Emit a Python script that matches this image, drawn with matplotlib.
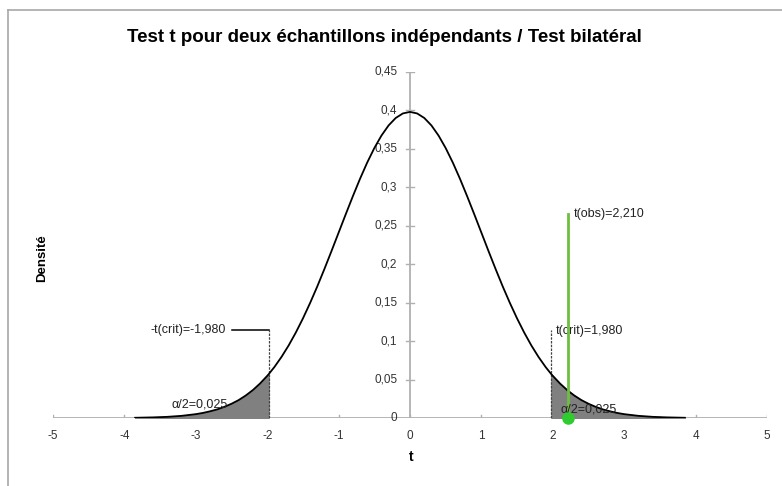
import matplotlib.pyplot as plt
from matplotlib.lines import Line2D

# density of the t distribution (right half, mirrored)
t_half = [0.0, 0.1, 0.2, 0.3, 0.4, 0.5, 0.6, 0.7, 0.8, 0.9, 1.0, 1.1, 1.2, 1.3, 1.4,
          1.5, 1.6, 1.7, 1.8, 1.9, 1.98, 2.0, 2.1, 2.2, 2.3, 2.4, 2.5, 2.6, 2.7, 2.8,
          2.9, 3.0, 3.2, 3.4, 3.6, 3.85]
d_half = [0.3981, 0.3961, 0.3902, 0.3805, 0.3673, 0.3510, 0.3321, 0.3111, 0.2885, 0.2650,
          0.2410, 0.2170, 0.1935, 0.1708, 0.1494, 0.1294, 0.1110, 0.0943, 0.0794, 0.0662,
          0.0569, 0.0548, 0.0449, 0.0364, 0.0293, 0.0233, 0.0185, 0.0145, 0.0112, 0.0087,
          0.0066, 0.0050, 0.0028, 0.0015, 0.0008, 0.0003]
t_vals = [-t for t in t_half[:0:-1]] + t_half
dens = d_half[:0:-1] + d_half

t_crit = 1.980
t_obs = 2.210
crit_line_top = 0.115
obs_line_top = 0.265

x_ticks = [-5, -4, -3, -2, -1, 0, 1, 2, 3, 4, 5]
y_ticks = [0, 0.05, 0.1, 0.15, 0.2, 0.25, 0.3, 0.35, 0.4, 0.45]
y_labels = ['0', '0,05', '0,1', '0,15', '0,2', '0,25', '0,3', '0,35', '0,4', '0,45']

plt.rcParams['font.family'] = ['Liberation Sans', 'DejaVu Sans']

fig = plt.figure(figsize=(7.82, 4.86), dpi=100)
ax = fig.add_axes([53 / 782, 68 / 486, 714 / 782, 346 / 486])
ax.set_xlim(-5, 5)
ax.set_ylim(0, 0.45)
ax.axis('off')

grey = '#b0b0b0'
lab_col = '#333333'
# axes crossing at the origin
ax.plot([-5, 5], [0, 0], color=grey, lw=1.3, zorder=1)
ax.plot([0, 0], [0, 0.45], color=grey, lw=1.3, zorder=1)
for xt in x_ticks:
    ax.plot([xt, xt], [-0.004, 0.004], color=grey, lw=1, zorder=1)
    ax.text(xt, -0.016, str(xt), ha='center', va='top', fontsize=8.5, color=lab_col)
for yt, lab in zip(y_ticks, y_labels):
    ax.plot([-0.06, 0.06], [yt, yt], color=grey, lw=1, zorder=1)
    ax.text(-0.18, yt, lab, ha='right', va='center', fontsize=8.5, color=lab_col)

# shaded tails
left_t = [t for t in t_vals if t <= -t_crit]
left_d = [d for t, d in zip(t_vals, dens) if t <= -t_crit]
right_t = [t for t in t_vals if t >= t_crit]
right_d = [d for t, d in zip(t_vals, dens) if t >= t_crit]
ax.fill_between(left_t, 0, left_d, color='#808080', zorder=2)
ax.fill_between(right_t, 0, right_d, color='#808080', zorder=2)

ax.plot(t_vals, dens, color='black', lw=1.3, zorder=4)

# critical values
ax.plot([-t_crit, -t_crit], [0, crit_line_top], color='#444444', lw=0.9, ls=(0, (2, 1)), zorder=3)
ax.plot([-t_crit, -2.5], [crit_line_top, crit_line_top], color='black', lw=1.1, zorder=3)
ax.text(-2.58, crit_line_top, '-t(crit)=-1,980', ha='right', va='center', fontsize=9, color='#222222')
ax.plot([t_crit, t_crit], [0, crit_line_top], color='#444444', lw=0.9, ls=(0, (2, 1)), zorder=3)
ax.text(t_crit + 0.06, crit_line_top - 0.002, 't(crit)=1,980', ha='left', va='center', fontsize=9, color='#222222')

# observed value
ax.plot([t_obs, t_obs], [0, obs_line_top], color='#6cbf3f', lw=2, zorder=5)
ax.plot([t_obs], [0], 'o', color='#2ecc2e', ms=8, zorder=6, clip_on=False)
ax.text(t_obs + 0.08, obs_line_top, 't(obs)=2,210', ha='left', va='center', fontsize=9, color='#222222')

ax.text(-2.95, 0.018, '\u03b1/2=0,025', ha='center', va='center', fontsize=9, color='#222222', zorder=5)
ax.text(2.5, 0.011, '\u03b1/2=0,025', ha='center', va='center', fontsize=9, color='#222222', zorder=5)

fig.text(384 / 782, 1 - 38 / 486, 'Test t pour deux échantillons indépendants / Test bilatéral',
         ha='center', va='center', fontsize=13.5, fontweight='bold',
         family=['Liberation Sans', 'DejaVu Sans'])
fig.text(42 / 782, 1 - 258 / 486, 'Densité', rotation=90, ha='center', va='center',
         fontsize=9.5, fontweight='bold')
fig.text(411 / 782, 1 - 457 / 486, 't', ha='center', va='center', fontsize=10, fontweight='bold')

# chart area frame (top and left edges visible)
fig.add_artist(Line2D([8 / 782, 8 / 782], [0, 1 - 10 / 486], transform=fig.transFigure, color='#a8a8a8', lw=1.2))
fig.add_artist(Line2D([8 / 782, 1], [1 - 10 / 486, 1 - 10 / 486], transform=fig.transFigure, color='#a8a8a8', lw=1.2))

fig.savefig('out.png', dpi=100)
